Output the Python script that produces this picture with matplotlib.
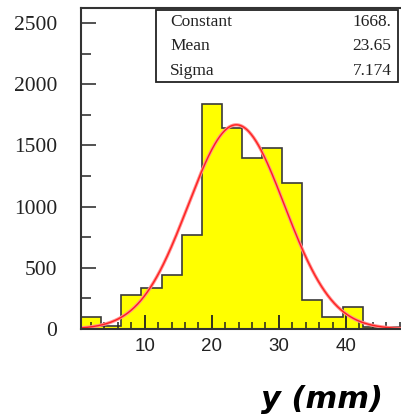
import numpy as np
import matplotlib
matplotlib.use("Agg")
import matplotlib.pyplot as plt
from matplotlib.patches import Rectangle
from matplotlib.ticker import MultipleLocator

# bords des classes (largeur 3 mm) et contenus
bords = np.arange(0.5, 48.6, 3.0)
contenus = [96, 28, 278, 332, 439, 765, 1836, 1640, 1395, 1476, 1195, 237, 100, 177, 20, 15]

# parametres de l'ajustement gaussien
constante = 1668.0
moyenne = 23.65
sigma = 7.174
noms_stats = ["Constant", "Mean", "Sigma"]
valeurs_stats = ["1668.", "23.65", "7.174"]

fig = plt.figure(figsize=(4.01, 4.20), dpi=100)
ax = fig.add_axes([81 / 401, 91 / 420, 322 / 401, 321 / 420])

ax.stairs(contenus, bords, fill=True, color="#ffff00", zorder=1)
ax.stairs(contenus, bords, color="#3a3a3a", linewidth=1.2, baseline=0, zorder=1.5)

x = np.linspace(0.5, 48.5, 400)
y = constante * np.exp(-0.5 * ((x - moyenne) / sigma) ** 2)
ax.plot(x, y, color="#ff9090", linewidth=2.4, zorder=2)
ax.plot(x, y, color="#ff2020", linewidth=1.0, zorder=2.1)

ax.set_xlim(0.5, 48.5)
ax.set_ylim(0, 2622)

ax.xaxis.set_major_locator(MultipleLocator(10))
ax.xaxis.set_minor_locator(MultipleLocator(2))
ax.yaxis.set_major_locator(MultipleLocator(500))
ax.yaxis.set_minor_locator(MultipleLocator(250))

ax.tick_params(axis="y", which="major", direction="in", length=11, width=1.3,
               color="#444444", pad=17, labelsize=15.5)
ax.tick_params(axis="y", which="minor", direction="in", length=7, width=1.3,
               color="#444444")
ax.tick_params(axis="x", which="major", direction="in", length=10, width=1.3,
               color="#222222", pad=6.5, labelsize=13.5)
ax.tick_params(axis="x", which="minor", direction="in", length=5, width=1.1,
               color="#222222")
for lab in ax.get_yticklabels():
    lab.set_family("Liberation Serif")
    lab.set_color("#222222")
for lab in ax.get_xticklabels():
    lab.set_family("Liberation Sans")
    lab.set_color("#222222")

for cote in ["left", "bottom", "top", "right"]:
    ax.spines[cote].set_color("#333333")
    ax.spines[cote].set_linewidth(1.5)

# boite des statistiques
ax.add_patch(Rectangle((0.233, 0.769), 0.753, 0.225, transform=ax.transAxes,
                       facecolor="white", edgecolor="#222222", linewidth=1.3,
                       clip_on=False, zorder=5))
for i, (nom, val) in enumerate(zip(noms_stats, valeurs_stats)):
    yy = 0.957 - i * 0.076
    ax.text(0.277, yy, nom, transform=ax.transAxes, family="Liberation Serif",
            fontsize=12.5, va="center", ha="left", color="#222222", zorder=6)
    ax.text(0.964, yy, val, transform=ax.transAxes, family="Liberation Serif",
            fontsize=12.5, va="center", ha="right", color="#222222", zorder=6)

fig.text(322 / 401, 1 - 400 / 420, "y (mm)", ha="center", va="center",
         fontsize=22, fontweight="bold", fontstyle="italic", family="DejaVu Sans")

fig.savefig("out.png", dpi=100)
